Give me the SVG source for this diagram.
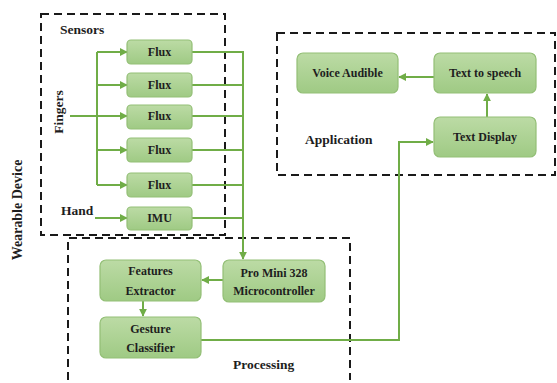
<svg xmlns="http://www.w3.org/2000/svg" width="557" height="383" viewBox="0 0 557 383">
<defs>
<linearGradient id="g" x1="0" y1="0" x2="0" y2="1">
<stop offset="0" stop-color="#bcdba5"/>
<stop offset="1" stop-color="#9fca84"/>
</linearGradient>
<marker id="a" viewBox="0 0 10 10" refX="9" refY="5" markerWidth="4" markerHeight="4" orient="auto">
<path d="M0,0 L10,5 L0,10 z" fill="#70ad47"/>
</marker>
</defs>
<style>
.box{fill:url(#g);stroke:#93bf76;stroke-width:1.2}
.t{font-family:"Liberation Serif",serif;font-weight:bold;font-size:12px;fill:#1e1e1e;text-anchor:middle}
.lbl{font-family:"Liberation Serif",serif;font-weight:bold;font-size:13.5px;fill:#1e1e1e}
.dash{fill:none;stroke:#1a1a1a;stroke-width:2;stroke-dasharray:8,5}
.c{fill:none;stroke:#70ad47;stroke-width:2}
.ca{fill:none;stroke:#70ad47;stroke-width:2;marker-end:url(#a)}
</style>
<rect width="557" height="383" fill="#ffffff"/>
<g id="frames">
<rect class="dash" x="41" y="14" width="184" height="221"/>
<path class="dash" d="M68,380 V238 H350 V380"/>
<rect class="dash" x="277" y="33" width="278" height="142"/>
</g>
<g id="labels">
<text class="lbl" x="60" y="34">Sensors</text>
<text class="lbl" x="61" y="215">Hand</text>
<text class="lbl" transform="translate(63,112) rotate(-90)" text-anchor="middle">Fingers</text>
<text class="lbl" transform="translate(22,210) rotate(-90)" text-anchor="middle" style="font-size:14px">Wearable Device</text>
<text class="lbl" x="305" y="144">Application</text>
<text class="lbl" x="233" y="369">Processing</text>
</g>
<g id="connectors">
<path class="c" d="M97,52 V185"/>
<path class="ca" d="M97,52 H127"/>
<path class="ca" d="M97,85 H127"/>
<path class="ca" d="M70,116 H127"/>
<path class="ca" d="M97,150 H127"/>
<path class="ca" d="M97,185 H127"/>
<path class="ca" d="M95,218 H127"/>
<path class="c" d="M192,52 H243 M192,85 H243 M192,116 H243 M192,150 H243 M192,185 H243 M192,218 H243"/>
<path class="ca" d="M243,51 V259"/>
<path class="ca" d="M223,280 H202"/>
<path class="ca" d="M143,301 V316"/>
<path class="ca" d="M201,340 H399 V142 H433"/>
<path class="ca" d="M487,117 V94"/>
<path class="ca" d="M434,77 H399"/>
</g>
<g id="flux1"><rect class="box" x="127" y="40" width="65" height="24" rx="4"/><text class="t" x="159.5" y="56">Flux</text></g>
<g id="flux2"><rect class="box" x="127" y="73" width="65" height="24" rx="4"/><text class="t" x="159.5" y="89">Flux</text></g>
<g id="flux3"><rect class="box" x="127" y="105" width="65" height="24" rx="4"/><text class="t" x="159.5" y="120">Flux</text></g>
<g id="flux4"><rect class="box" x="127" y="138" width="65" height="24" rx="4"/><text class="t" x="159.5" y="154">Flux</text></g>
<g id="flux5"><rect class="box" x="127" y="173" width="65" height="24" rx="4"/><text class="t" x="159.5" y="189">Flux</text></g>
<g id="imu"><rect class="box" x="127" y="207" width="65" height="23" rx="4"/><text class="t" x="159.5" y="222">IMU</text></g>
<g id="promini"><rect class="box" x="223" y="260" width="102" height="42" rx="6"/><text class="t" x="274" y="277">Pro Mini 328</text><text class="t" x="274" y="295">Microcontroller</text></g>
<g id="features"><rect class="box" x="100" y="260" width="101" height="41" rx="6"/><text class="t" x="150.5" y="275">Features</text><text class="t" x="150.5" y="295">Extractor</text></g>
<g id="gesture"><rect class="box" x="100" y="317" width="101" height="41" rx="6"/><text class="t" x="150.5" y="333">Gesture</text><text class="t" x="150.5" y="352">Classifier</text></g>
<g id="voice"><rect class="box" x="297" y="53" width="101" height="40" rx="6"/><text class="t" x="347.5" y="77">Voice Audible</text></g>
<g id="tts"><rect class="box" x="434" y="53" width="102" height="40" rx="6"/><text class="t" x="485" y="77">Text to speech</text></g>
<g id="display"><rect class="box" x="434" y="117" width="102" height="40" rx="6"/><text class="t" x="485" y="141">Text Display</text></g>
</svg>
